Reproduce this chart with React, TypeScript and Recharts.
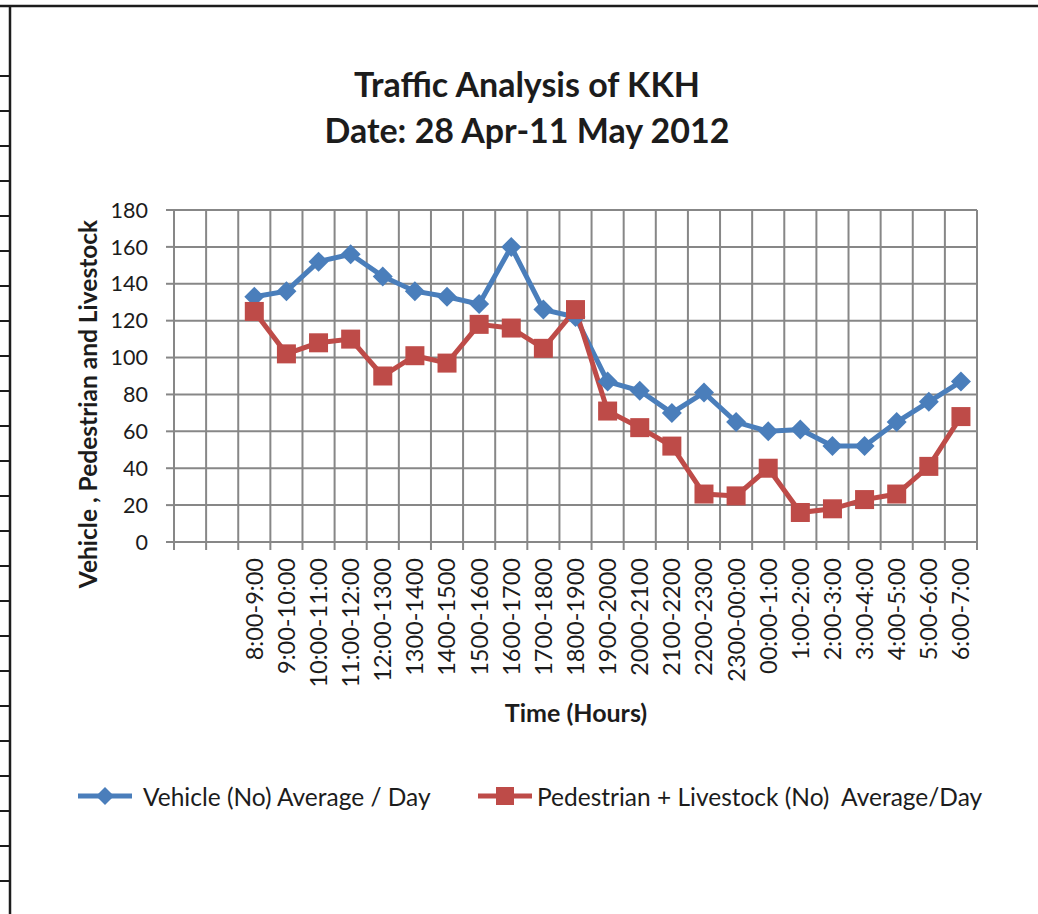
import React from 'react';
import { LineChart, Line, XAxis, YAxis, CartesianGrid, Legend } from 'recharts';

const timeLabels = [
  '8:00-9:00', '9:00-10:00', '10:00-11:00', '11:00-12:00', '12:00-1300', '1300-1400',
  '1400-1500', '1500-1600', '1600-1700', '1700-1800', '1800-1900', '1900-2000',
  '2000-2100', '2100-2200', '2200-2300', '2300-00:00', '00:00-1:00', '1:00-2:00',
  '2:00-3:00', '3:00-4:00', '4:00-5:00', '5:00-6:00', '6:00-7:00',
];
const vehicleAvg = [133, 136, 152, 156, 144, 136, 133, 129, 160, 126, 122, 87, 82, 70, 81, 65, 60, 61, 52, 52, 65, 76, 87];
const pedestrianLivestockAvg = [125, 102, 108, 110, 90, 101, 97, 118, 116, 105, 126, 71, 62, 52, 26, 25, 40, 16, 18, 23, 26, 41, 68];
const yTicks = [0, 20, 40, 60, 80, 100, 120, 140, 160, 180];
const leadingBlankSlots = 2;

const vehicleName = 'Vehicle (No) Average / Day';
const pedName = 'Pedestrian + Livestock (No)  Average/Day';
const seriesOrder = ['vehicle', 'ped'];

const slotCount = timeLabels.length + leadingBlankSlots;
const data = timeLabels.map((label, i) => ({
  pos: i + leadingBlankSlots + 0.5,
  label,
  vehicle: vehicleAvg[i],
  ped: pedestrianLivestockAvg[i],
}));
const boundaryTicks = Array.from({ length: slotCount + 1 }, (_, i) => i);
const centerTicks = data.map((d) => d.pos);
const labelByPos = new Map(data.map((d) => [d.pos, d.label]));

const FONT = 'Lato, "Open Sans", sans-serif';
const BLUE = '#4A7EBB';
const RED = '#BE4B48';
const GRID = '#878787';
const INK = '#1c1c1c';

const RotTick = (props: any) => {
  const { x, y, payload } = props;
  return (
    <text
      x={x}
      y={y}
      transform={`rotate(-90, ${x}, ${y})`}
      textAnchor="end"
      dy="0.36em"
      fontSize={23.5}
      fontFamily={FONT}
      fill={INK}
    >
      {labelByPos.get(payload.value)}
    </text>
  );
};

const Diamond = ({ cx, cy, r, color }: any) => (
  <path d={`M${cx},${cy - r} L${cx + r},${cy} L${cx},${cy + r} L${cx - r},${cy} Z`} fill={color} />
);
const Square = ({ cx, cy, r, color }: any) => (
  <rect x={cx - r} y={cy - r} width={2 * r} height={2 * r} fill={color} />
);

const renderVehicleDot = (p: any) =>
  p.cx == null || p.cy == null ? <g key={`vd-${p.index}`} /> : <Diamond key={`vd-${p.index}`} cx={p.cx} cy={p.cy} r={10} color={BLUE} />;
const renderPedDot = (p: any) =>
  p.cx == null || p.cy == null ? <g key={`pd-${p.index}`} /> : <Square key={`pd-${p.index}`} cx={p.cx} cy={p.cy} r={9.5} color={RED} />;

const legendLefts = [78, 478];

const renderLegend = (props: any) => {
  const payload = [...(props.payload || [])].sort(
    (a: any, b: any) => seriesOrder.indexOf(a.dataKey) - seriesOrder.indexOf(b.dataKey)
  );
  return (
    <div style={{ position: 'relative', width: 1038, height: 40 }}>
      {payload.map((entry: any, i: number) => (
        <div
          key={String(entry.dataKey)}
          style={{
            position: 'absolute',
            left: legendLefts[i],
            top: 0,
            height: 40,
            display: 'flex',
            alignItems: 'center',
            whiteSpace: 'pre',
          }}
        >
          <svg width={54} height={24} style={{ display: 'block' }}>
            <line x1={0} y1={12} x2={54} y2={12} stroke={entry.color} strokeWidth={5} />
            {entry.dataKey === 'vehicle' ? (
              <Diamond cx={27} cy={12} r={9} color={entry.color} />
            ) : (
              <Square cx={27} cy={12} r={9} color={entry.color} />
            )}
          </svg>
          <span
            style={{
              marginLeft: entry.dataKey === 'vehicle' ? 11 : 5,
              fontFamily: FONT,
              fontSize: 24.5,
              color: INK,
            }}
          >
            {entry.value}
          </span>
        </div>
      ))}
    </div>
  );
};

const frameTicks = Array.from({ length: 24 }, (_, i) => 76 + 35 * i);

export default function App() {
  return (
    <div style={{ position: 'absolute', left: 0, top: 0, width: 1038, height: 914, background: '#fff', overflow: 'hidden' }}>
      <svg width={1038} height={914} style={{ position: 'absolute', left: 0, top: 0 }}>
        <line x1={0} y1={6} x2={1038} y2={6} stroke={INK} strokeWidth={2.5} />
        <line x1={10} y1={5} x2={10} y2={914} stroke={INK} strokeWidth={2.5} />
        {frameTicks.map((t) => (
          <line key={t} x1={0} y1={t} x2={10} y2={t} stroke={INK} strokeWidth={2} />
        ))}
        <text x={527} y={97} textAnchor="middle" fontFamily={FONT} fontWeight={700} fontSize={34} fill={INK}>
          Traffic Analysis of KKH
        </text>
        <text x={527} y={143} textAnchor="middle" fontFamily={FONT} fontWeight={700} fontSize={34} fill={INK}>
          Date: 28 Apr-11 May 2012
        </text>
        <text
          x={88}
          y={404}
          transform="rotate(-90, 88, 404)"
          textAnchor="middle"
          dy="0.36em"
          fontFamily={FONT}
          fontWeight={700}
          fontSize={24.5}
          fill={INK}
        >
          Vehicle , Pedestrian and Livestock
        </text>
        <text x={576} y={722} textAnchor="middle" fontFamily={FONT} fontWeight={700} fontSize={25} fill={INK}>
          Time (Hours)
        </text>
      </svg>
      <div style={{ position: 'absolute', left: 0, top: 0 }}>
        <LineChart
          width={1038}
          height={914}
          data={data}
          margin={{ top: 210, right: 61, left: 100, bottom: 234 }}
        >
          <CartesianGrid xAxisId="grid" stroke={GRID} strokeWidth={2} />
          <XAxis
            xAxisId="grid"
            type="number"
            dataKey="pos"
            domain={[0, slotCount]}
            ticks={boundaryTicks}
            interval={0}
            allowDataOverflow
            tick={() => <g />}
            tickSize={8}
            height={8}
            stroke={GRID}
            strokeWidth={2}
          />
          <XAxis
            xAxisId="lab"
            type="number"
            dataKey="pos"
            domain={[0, slotCount]}
            ticks={centerTicks}
            interval={0}
            allowDataOverflow
            axisLine={false}
            tickLine={false}
            tickSize={0}
            tickMargin={8}
            height={130}
            tick={<RotTick />}
          />
          <YAxis
            type="number"
            domain={[0, 180]}
            ticks={yTicks}
            interval={0}
            width={74}
            tickSize={8}
            tickMargin={18}
            stroke={GRID}
            strokeWidth={2}
            tick={{ fill: INK, fontSize: 21.5, fontFamily: FONT }}
          />
          <Legend
            layout="horizontal"
            verticalAlign="middle"
            align="center"
            wrapperStyle={{ left: 0, top: 776, width: 1038 }}
            content={renderLegend}
          />
          <Line
            xAxisId="lab"
            type="linear"
            dataKey="vehicle"
            name={vehicleName}
            stroke={BLUE}
            strokeWidth={5}
            dot={renderVehicleDot}
            activeDot={false}
            isAnimationActive={false}
          />
          <Line
            xAxisId="lab"
            type="linear"
            dataKey="ped"
            name={pedName}
            stroke={RED}
            strokeWidth={5}
            dot={renderPedDot}
            activeDot={false}
            isAnimationActive={false}
          />
        </LineChart>
      </div>
    </div>
  );
}
